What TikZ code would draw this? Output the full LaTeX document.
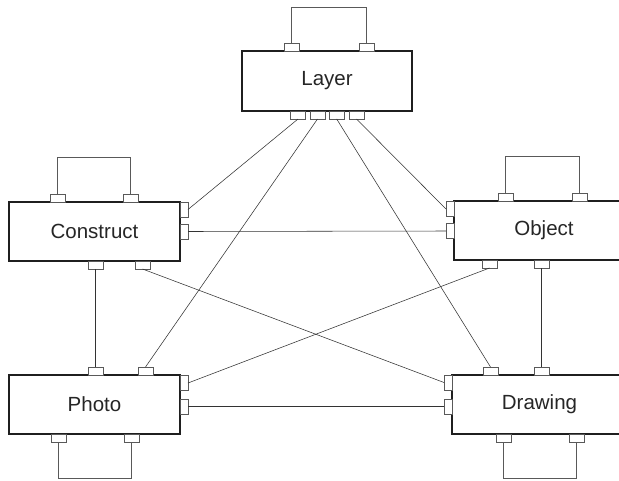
\documentclass[tikz,border=0pt]{standalone}
\usepackage{fontspec}
\setmainfont{Liberation Sans}
\begin{document}
\begin{tikzpicture}[x=1pt,y=-1pt,
  box/.style={draw=black!88, line width=1.4pt, fill=white, inner sep=0pt, font=\fontsize{20.5}{24}\selectfont, text=black!85},
  hport/.style={draw=black!65, line width=0.6pt, fill=white, minimum width=15pt, minimum height=8pt, inner sep=0pt, outer sep=0pt},
  vport/.style={draw=black!65, line width=0.6pt, fill=white, minimum width=8pt, minimum height=15pt, inner sep=0pt, outer sep=0pt},
  conn/.style={draw=black!80, line width=0.55pt},
  loop/.style={draw=black!65, line width=0.6pt}]
\clip (0,0) rectangle (619,480);
\fill[white] (0,0) rectangle (619,480);
% boxes
\node[box, minimum width=170pt, minimum height=60pt] (layer) at (327,81) {Layer};
\node[box, minimum width=171pt, minimum height=59pt] (construct) at (94.5,231.5) {Construct};
\node[box, minimum width=180pt, minimum height=59pt] (object) at (544,230.5) {Object};
\node[box, minimum width=171pt, minimum height=59pt] (photo) at (94.5,404.5) {Photo};
\node[box, minimum width=175pt, minimum height=59pt] (drawing) at (539.5,404.5) {Drawing};
% Layer ports
\node[hport, anchor=south] (lt1) at (291.5,51) {};
\node[hport, anchor=south] (lt2) at (366.5,51) {};
\node[hport, anchor=north] (lb1) at (298,111) {};
\node[hport, anchor=north] (lb2) at (317.5,111) {};
\node[hport, anchor=north] (lb3) at (336.7,111) {};
\node[hport, anchor=north] (lb4) at (356.5,111) {};
% Construct ports
\node[hport, anchor=south] (ct1) at (57.5,202) {};
\node[hport, anchor=south] (ct2) at (130.5,202) {};
\node[vport, anchor=west] (cr1) at (180,209.5) {};
\node[vport, anchor=west] (cr2) at (180,231.5) {};
\node[hport, anchor=north] (cb1) at (95.5,261) {};
\node[hport, anchor=north] (cb2) at (142.5,261) {};
% Object ports
\node[hport, anchor=south] (ot1) at (505.5,201) {};
\node[hport, anchor=south] (ot2) at (579.5,201) {};
\node[vport, anchor=east] (ol1) at (454,209) {};
\node[vport, anchor=east] (ol2) at (454,231) {};
\node[hport, anchor=north] (ob1) at (489.5,260) {};
\node[hport, anchor=north] (ob2) at (541.5,260) {};
% Photo ports
\node[hport, anchor=south] (pt1) at (95.5,375) {};
\node[hport, anchor=south] (pt2) at (145.5,375) {};
\node[vport, anchor=west] (pr1) at (180,383) {};
\node[vport, anchor=west] (pr2) at (180,406.5) {};
\node[hport, anchor=north] (pb1) at (58.5,434) {};
\node[hport, anchor=north] (pb2) at (131.5,434) {};
% Drawing ports
\node[hport, anchor=south] (dt1) at (490.5,375) {};
\node[hport, anchor=south] (dt2) at (541.5,375) {};
\node[vport, anchor=east] (dl1) at (452,382.5) {};
\node[vport, anchor=east] (dl2) at (452,406.5) {};
\node[hport, anchor=north] (db1) at (503.5,434) {};
\node[hport, anchor=north] (db2) at (576.5,434) {};
% loop heights
\coordinate (ltop) at (0,7);
\coordinate (ctop) at (0,157);
\coordinate (otop) at (0,156);
\coordinate (pbot) at (0,478);
\coordinate (dbot) at (0,478);
% loops
\draw[loop] (lt1.north) -- (lt1.north |- ltop) -| (lt2.north);
\draw[loop] (ct1.north) -- (ct1.north |- ctop) -| (ct2.north);
\draw[loop] (ot1.north) -- (ot1.north |- otop) -| (ot2.north);
\draw[loop] (pb1.south) -- (pb1.south |- pbot) -| (pb2.south);
\draw[loop] (db1.south) -- (db1.south |- dbot) -| (db2.south);
% connectors
\draw[conn] (lb1.south) -- (cr1.east);
\draw[conn] (lb2.south) -- (pt2.north);
\draw[conn] (lb3.south) -- (dt1.north);
\draw[conn] (lb4.south) -- (ol1.west);
\draw[conn] (cr2.east) -- (ol2.west);
\draw[conn] (cb1.south) -- (pt1.north);
\draw[conn] (cb2.south) -- (dl1.west);
\draw[conn] (pr1.east) -- (ob1.south);
\draw[conn] (pr2.east) -- (dl2.west);
\draw[conn] (ob2.south) -- (dt2.north);
\end{tikzpicture}
\end{document}
